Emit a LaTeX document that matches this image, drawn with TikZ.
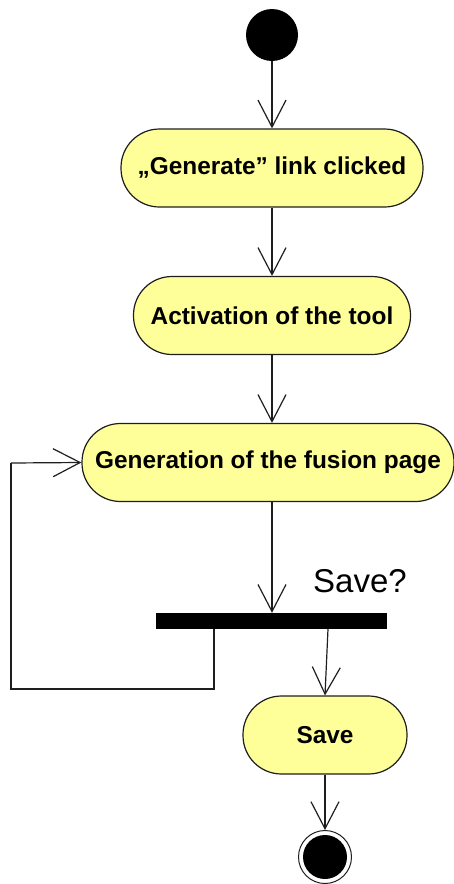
\documentclass[tikz,border=0pt]{standalone}
\usepackage{fontspec}
\setmainfont{Liberation Sans}
\usetikzlibrary{arrows.meta,calc}
\definecolor{actfill}{RGB}{255,255,153}
\definecolor{lineclr}{RGB}{30,30,30}
\tikzset{
  act/.style={draw=lineclr, line width=1.2pt, fill=actfill, rounded corners=38.5pt,
    minimum height=78pt, inner sep=0pt, font=\fontsize{24.4}{28}\selectfont\bfseries},
  flow/.style={draw=lineclr, line width=1.2pt, -{Straight Barb[length=27pt,width=28pt,line width=1.2pt]}},
  plain/.style={draw=lineclr, line width=1.2pt}
}
\begin{document}
\begin{tikzpicture}[x=1pt,y=-1pt]
\useasboundingbox (0,0) rectangle (454,884);
% start
\node[circle, fill=black, minimum size=52pt, inner sep=0pt] (start) at (272,35) {};
% activities
\node[act, minimum width=302pt] (n1) at (272,168) {„Generate” link clicked};
\node[act, minimum width=277pt] (n2) at (272,315.5) {Activation of the tool};
\node[act, minimum width=372pt] (n3) at (268,462.5) {Generation of the fusion page};
% fork bar
\node[fill=black, minimum width=231pt, minimum height=16pt, inner sep=0pt] (bar) at (271.5,621) {};
\node[anchor=base, font=\fontsize{33}{38}\selectfont] (q) at (360,592) {Save?};
% save
\node[act, minimum width=164pt] (save) at (325,735) {Save};
% end
\node[circle, draw=lineclr, line width=1pt, minimum size=53pt, inner sep=0pt] (endo) at (325,857) {};
\node[circle, fill=black, minimum size=44pt, inner sep=0pt] (endi) at (325,857) {};
% coordinates
\coordinate (b1) at (214,629);
\coordinate (c1) at (214,689);
\coordinate (c2) at (11,689);
\coordinate (c3) at (11,463);
\coordinate (b2) at (328,629);
% connectors
\draw[flow] (start.south) -- (n1.north);
\draw[flow] (n1.south) -- (n2.north);
\draw[flow] (n2.south) -- (n2.south |- n3.north);
\draw[flow] (n2.south |- n3.south) -- (n2.south |- bar.north);
\draw[plain] (b1) -- (c1) -- (c2) -- (c3);
\draw[flow] (c3) -- (n3.west);
\draw[flow] (b2) -- (save.north);
\draw[flow] (save.south) -- (endo.north);
\end{tikzpicture}
\end{document}
